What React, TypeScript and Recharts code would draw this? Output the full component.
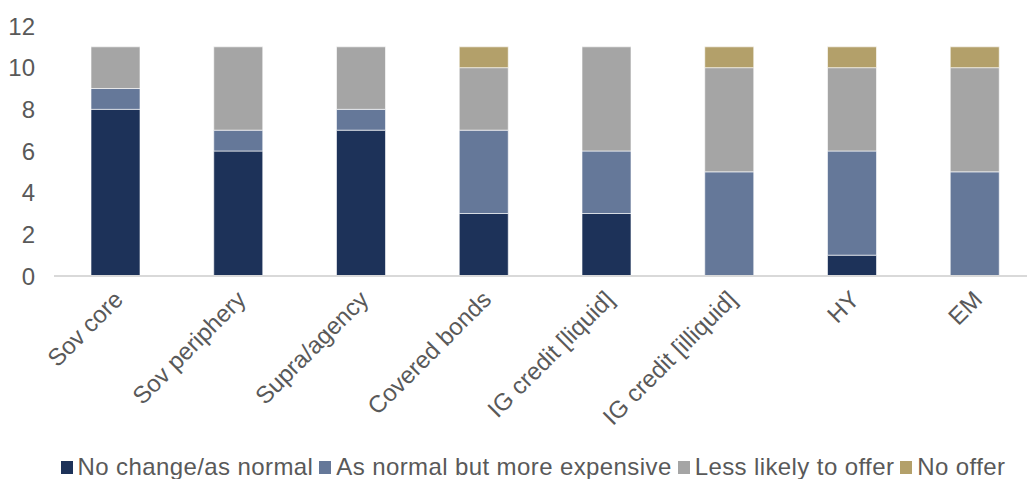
import { BarChart, Bar, XAxis, YAxis } from 'recharts';

const categories = ['Sov core', 'Sov periphery', 'Supra/agency', 'Covered bonds', 'IG credit [liquid]', 'IG credit [illiquid]', 'HY', 'EM'];
const noChange = [8, 6, 7, 3, 3, 0, 1, 0];
const moreExpensive = [1, 1, 1, 4, 3, 5, 5, 5];
const lessLikely = [2, 4, 3, 3, 5, 5, 4, 5];
const noOffer = [0, 0, 0, 1, 0, 1, 1, 1];
const yTicks = [0, 2, 4, 6, 8, 10, 12];

const SERIES = [
  { key: 'noChange', name: 'No change/as normal', color: '#1d3259' },
  { key: 'moreExpensive', name: 'As normal but more expensive', color: '#657899' },
  { key: 'lessLikely', name: 'Less likely to offer', color: '#a5a5a5' },
  { key: 'noOffer', name: 'No offer', color: '#b3a06a' },
];

const data = categories.map((name, i) => ({
  name,
  noChange: noChange[i],
  moreExpensive: moreExpensive[i],
  lessLikely: lessLikely[i],
  noOffer: noOffer[i],
}));

const FONT = '"Liberation Sans", Arial, sans-serif';
const TEXT = '#595959';
const FS = 24;

function XTick(props: any) {
  const { x, y, payload } = props;
  const tx = x + 9;
  const ty = y + 17;
  return (
    <text
      x={tx}
      y={ty}
      fill={TEXT}
      fontSize={FS}
      fontFamily={FONT}
      textAnchor="end"
      transform={`rotate(-45, ${tx}, ${ty})`}
    >
      {payload.value}
    </text>
  );
}

export default function App() {
  return (
    <div style={{ position: 'absolute', left: 0, top: 0, width: 1027, height: 479, overflow: 'hidden', background: '#fff' }}>
      <BarChart
        width={1040}
        height={479}
        data={data}
        margin={{ top: 26, right: 4, bottom: 0, left: 0 }}
        barSize={49}
      >
        <XAxis
          dataKey="name"
          tick={<XTick />}
          tickLine={false}
          axisLine={{ stroke: '#d9d9d9', strokeWidth: 2 }}
          height={203}
          interval={0}
        />
        <YAxis
          domain={[0, 12]}
          ticks={yTicks}
          width={54}
          tickLine={false}
          axisLine={false}
          tickMargin={13}
          tick={{ fill: TEXT, fontSize: FS, fontFamily: FONT }}
        />
        {SERIES.map((s) => (
          <Bar
            key={s.key}
            dataKey={s.key}
            name={s.name}
            stackId="a"
            fill={s.color}
            stroke="#ffffff"
            strokeWidth={0.6}
            isAnimationActive={false}
          />
        ))}
      </BarChart>
      <div
        style={{
          position: 'absolute',
          top: 452,
          left: 0,
          width: 1066,
          display: 'flex',
          justifyContent: 'center',
          alignItems: 'center',
          fontFamily: FONT,
          fontSize: FS,
          lineHeight: '30px',
          letterSpacing: 0.4,
          color: TEXT,
          whiteSpace: 'nowrap',
        }}
      >
        {SERIES.map((s, i) => (
          <div key={s.key} style={{ display: 'flex', alignItems: 'center', marginLeft: i === 0 ? 0 : 6 }}>
            <span style={{ width: 12, height: 13, background: s.color, marginRight: 5, display: 'inline-block' }} />
            <span>{s.name}</span>
          </div>
        ))}
      </div>
    </div>
  );
}
